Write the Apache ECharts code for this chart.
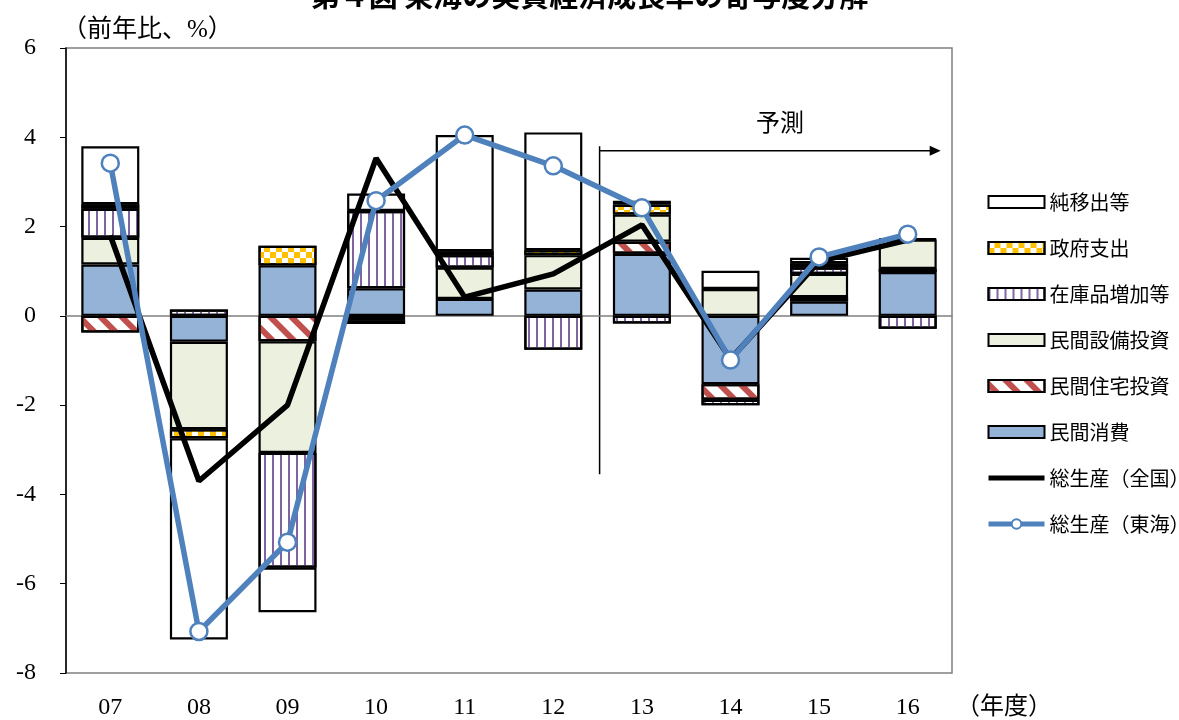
<!DOCTYPE html>
<html>
<head>
<meta charset="utf-8">
<script src="https://cdn.jsdelivr.net/npm/echarts@6/dist/echarts.min.js"></script>
<style>
  html, body { margin: 0; padding: 0; background: #fff; }
  #main { width: 1179px; height: 720px; }
</style>
</head>
<body>
<div id="main"></div>
<script>
var categories = ['07', '08', '09', '10', '11', '12', '13', '14', '15', '16'];

// contributions (percentage points)
var consumption = [1.15, -0.58, 1.13, 0.62, 0.38, 0.59, 1.39, -1.53, 0.32, 0.98];
var housing     = [-0.37, null, -0.57, -0.02, null, null, 0.27, -0.35, 0.10, 0.07];
var capex       = [0.60, -1.96, -2.50, -0.08, 0.70, 0.77, 0.61, 0.60, 0.52, 0.66];
var inventory   = [0.65, 0.14, -2.57, 1.73, 0.28, -0.76, -0.17, -0.12, 0.14, -0.29];
var government  = [0.10, -0.20, 0.44, -0.08, 0.09, 0.11, 0.22, null, 0.10, null];
var netExports  = [1.30, -4.51, -1.00, 0.39, 2.60, 2.64, 0.09, 0.41, 0.12, 0.02];

// totals
var national = [1.80, -3.70, -2.00, 3.53, 0.42, 0.94, 2.04, -0.97, 1.22, 1.70];
var tokai    = [3.42, -7.07, -5.07, 2.58, 4.05, 3.36, 2.42, -0.99, 1.32, 1.83];

var serif = "'Liberation Serif', 'Noto Sans CJK JP', serif";
var jp = "'Noto Sans CJK JP', sans-serif";

var myChart = echarts.init(document.getElementById('main'));

function barSeries(name, data, color, decal) {
    var s = {
        name: name,
        type: 'bar',
        stack: 'total',
        barWidth: 58,
        data: data,
        itemStyle: {
            color: color,
            borderColor: '#000',
            borderWidth: 2.2
        }
    };
    if (decal) {
        s.itemStyle.decal = decal;
    }
    return s;
}

var option = {
    animation: false,
    title: {
        text: '第４図 東海の実質経済成長率の寄与度分解',
        left: 'center',
        top: -24,
        textStyle: { fontFamily: jp, fontSize: 29, fontWeight: 'bold', color: '#000' }
    },
    grid: {
        left: 66,
        right: 227,
        top: 48,
        bottom: 47,
        show: true,
        borderColor: '#808080',
        borderWidth: 1.5
    },
    legend: {
        orient: 'vertical',
        left: 981,
        top: 187,
        itemWidth: 56,
        itemHeight: 12,
        itemGap: 26,
        textStyle: { fontFamily: jp, fontSize: 20, color: '#000' },
        data: [
            { name: '純移出等', icon: 'rect' },
            { name: '政府支出', icon: 'rect' },
            { name: '在庫品増加等', icon: 'rect' },
            { name: '民間設備投資', icon: 'rect' },
            { name: '民間住宅投資', icon: 'rect' },
            { name: '民間消費', icon: 'rect' },
            {
                name: '総生産（全国）',
                itemStyle: { color: 'rgba(0,0,0,0)', borderWidth: 0 },
                lineStyle: { width: 5 }
            },
            { name: '総生産（東海）', lineStyle: { width: 5 } }
        ]
    },
    xAxis: [{
        type: 'category',
        data: categories,
        position: 'bottom',
        axisLine: { show: false, onZero: false },
        axisTick: { show: false },
        axisLabel: { fontFamily: serif, fontSize: 24, color: '#000', margin: 23 }
    }, {
        type: 'category',
        data: categories,
        position: 'bottom',
        axisLine: { onZero: true, lineStyle: { color: '#808080', width: 1.5 } },
        axisTick: { inside: true, length: 6, lineStyle: { color: '#606060' } },
        axisLabel: { show: false }
    }],
    yAxis: {
        type: 'value',
        min: -8,
        max: 6,
        interval: 2,
        axisLine: { show: true, lineStyle: { color: '#000', width: 1.5 } },
        axisTick: { show: true, length: 6, lineStyle: { color: '#000' } },
        splitLine: { show: false },
        axisLabel: { fontFamily: serif, fontSize: 24, color: '#000', margin: 30 }
    },
    series: [
        barSeries('民間消費', consumption, '#95b3d7'),
        barSeries('民間住宅投資', housing, '#ffffff', {
            symbol: 'rect', color: '#c0504d',
            dashArrayX: [1, 0], dashArrayY: [6, 9], rotation: Math.PI / 4
        }),
        barSeries('民間設備投資', capex, '#ebf1de'),
        barSeries('在庫品増加等', inventory, '#ffffff', {
            symbol: 'rect', color: '#8064a2',
            dashArrayX: [2, 6], dashArrayY: [1, 0]
        }),
        barSeries('政府支出', government, '#ffffff', {
            symbol: 'rect', color: '#ffc000',
            dashArrayX: [[6, 6], [0, 6, 6, 0]], dashArrayY: [6, 0]
        }),
        barSeries('純移出等', netExports, '#ffffff'),
        {
            name: '総生産（全国）',
            type: 'line',
            data: national,
            z: 3,
            symbol: 'none',
            lineStyle: { color: '#000', width: 5.5 },
            itemStyle: { color: '#000' }
        },
        {
            name: '総生産（東海）',
            type: 'line',
            data: tokai,
            z: 4,
            symbol: 'circle',
            symbolSize: 17,
            lineStyle: { color: '#4f81bd', width: 5.5 },
            itemStyle: { color: '#fff', borderColor: '#4f81bd', borderWidth: 2.5 }
        }
    ]
};
myChart.setOption(option);

// forecast marker and unit labels, placed through the axes
var p12 = myChart.convertToPixel({ xAxisIndex: 0, yAxisIndex: 0 }, [5, 0]);
var p13 = myChart.convertToPixel({ xAxisIndex: 0, yAxisIndex: 0 }, [6, 0]);
var p16 = myChart.convertToPixel({ xAxisIndex: 0, yAxisIndex: 0 }, [9, 0]);
var xSplit = (p12[0] + p13[0]) / 2 + 2;
var yTop = myChart.convertToPixel({ yAxisIndex: 0 }, 3.8);
var yBot = myChart.convertToPixel({ yAxisIndex: 0 }, -3.55);
var yArrow = myChart.convertToPixel({ yAxisIndex: 0 }, 3.7);
var xArrowEnd = p16[0] + 33;

myChart.setOption({
    graphic: [
        {
            type: 'line',
            shape: { x1: xSplit, y1: yTop, x2: xSplit, y2: yBot },
            style: { stroke: '#000', lineWidth: 1.5 }
        },
        {
            type: 'line',
            shape: { x1: xSplit, y1: yArrow, x2: xArrowEnd - 8, y2: yArrow },
            style: { stroke: '#000', lineWidth: 1.5 }
        },
        {
            type: 'polygon',
            shape: { points: [[xArrowEnd, yArrow], [xArrowEnd - 11, yArrow - 5], [xArrowEnd - 11, yArrow + 5]] },
            style: { fill: '#000' }
        },
        {
            type: 'text',
            x: 780, y: 122,
            style: { text: '予測', font: '24px ' + jp, fill: '#000', align: 'center', verticalAlign: 'middle' }
        },
        {
            type: 'text',
            x: 62, y: 30,
            style: { text: '（前年比、%）', font: '25px ' + serif, fill: '#000', align: 'left', verticalAlign: 'middle' }
        },
        {
            type: 'text',
            x: 956, y: 708,
            style: { text: '（年度）', font: '24px ' + serif, fill: '#000', align: 'left', verticalAlign: 'middle' }
        }
    ]
});
</script>
</body>
</html>
